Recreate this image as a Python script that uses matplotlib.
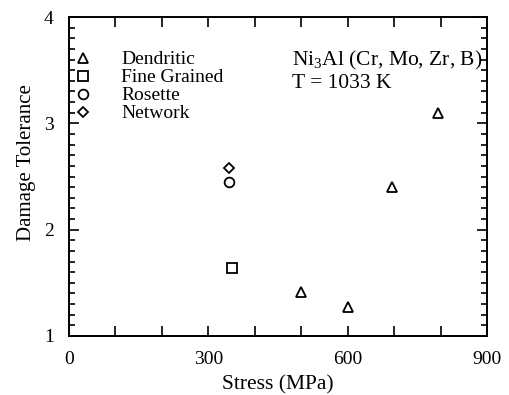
import numpy as np
import matplotlib
matplotlib.use('Agg')
import matplotlib.pyplot as plt
from matplotlib.ticker import MultipleLocator
from matplotlib.lines import Line2D

plt.rcParams['font.family'] = ['Liberation Serif', 'DejaVu Serif']
plt.rcParams['mathtext.fontset'] = 'custom'
plt.rcParams['mathtext.rm'] = 'Liberation Serif'

# data
dend_x = [500, 600, 695, 795]
dend_y = [1.41, 1.27, 2.40, 3.10]
fine_x = [350]
fine_y = [1.64]
ros_x = [345]
ros_y = [2.45]
net_x = [345]
net_y = [2.58]

labels = ['Dendritic', 'Fine Grained', 'Rosette', 'Network']
markers = ['^', 's', 'o', 'D']
sizes = [7, 7.5, 7, 5.5]

fig = plt.figure(figsize=(5.1, 3.95), dpi=100)
ax = fig.add_axes([69/510, 1 - 336/395, (487-69)/510, (336-17)/395])

style = dict(linestyle='none', markerfacecolor='none', markeredgecolor='black', markeredgewidth=1.3)
ax.plot(dend_x, dend_y, marker=markers[0], markersize=sizes[0], **style)
ax.plot(fine_x, fine_y, marker=markers[1], markersize=sizes[1], **style)
ax.plot(ros_x, ros_y, marker=markers[2], markersize=sizes[2], **style)
ax.plot(net_x, net_y, marker=markers[3], markersize=sizes[3], **style)

ax.set_xlim(0, 900)
ax.set_ylim(1, 4)
ax.set_xticks([0, 300, 600, 900])
ax.xaxis.set_minor_locator(MultipleLocator(100))
ax.set_yticks([1, 2, 3, 4])
ax.yaxis.set_minor_locator(MultipleLocator(0.1))
ax.tick_params(which='both', direction='in', top=True, right=True, width=1.2, labelsize=14)
ax.tick_params(which='major', length=7)
ax.tick_params(axis='x', which='major', pad=10.5)
ax.tick_params(axis='y', which='major', pad=11)
ax.tick_params(which='minor', length=4)
ax.tick_params(axis='x', which='minor', length=7)
for s in ax.spines.values():
    s.set_linewidth(1.4)

ax.set_xlabel('Stress (MPa)', fontsize=15.5, labelpad=5.5)
ax.set_ylabel('Damage Tolerance', fontsize=15)
ax.yaxis.set_label_coords(-0.08, 0.545)

handles = [Line2D([], [], marker=m, markersize=sz, **style) for m, sz in zip(markers, sizes)]
ax.legend(handles, labels, loc='upper left', bbox_to_anchor=(-0.01, 0.923), frameon=False,
          fontsize=14, handletextpad=1.5, handlelength=0.9, labelspacing=0.05, borderpad=0,
          handleheight=0.6)

ax.text(0.533, 0.865, 'Ni$_3$Al (Cr, Mo, Zr, B)', transform=ax.transAxes, fontsize=15.5, va='center')
ax.text(0.533, 0.79, 'T = 1033 K', transform=ax.transAxes, fontsize=15.5, va='center')

fig.savefig('out.png', dpi=100)
